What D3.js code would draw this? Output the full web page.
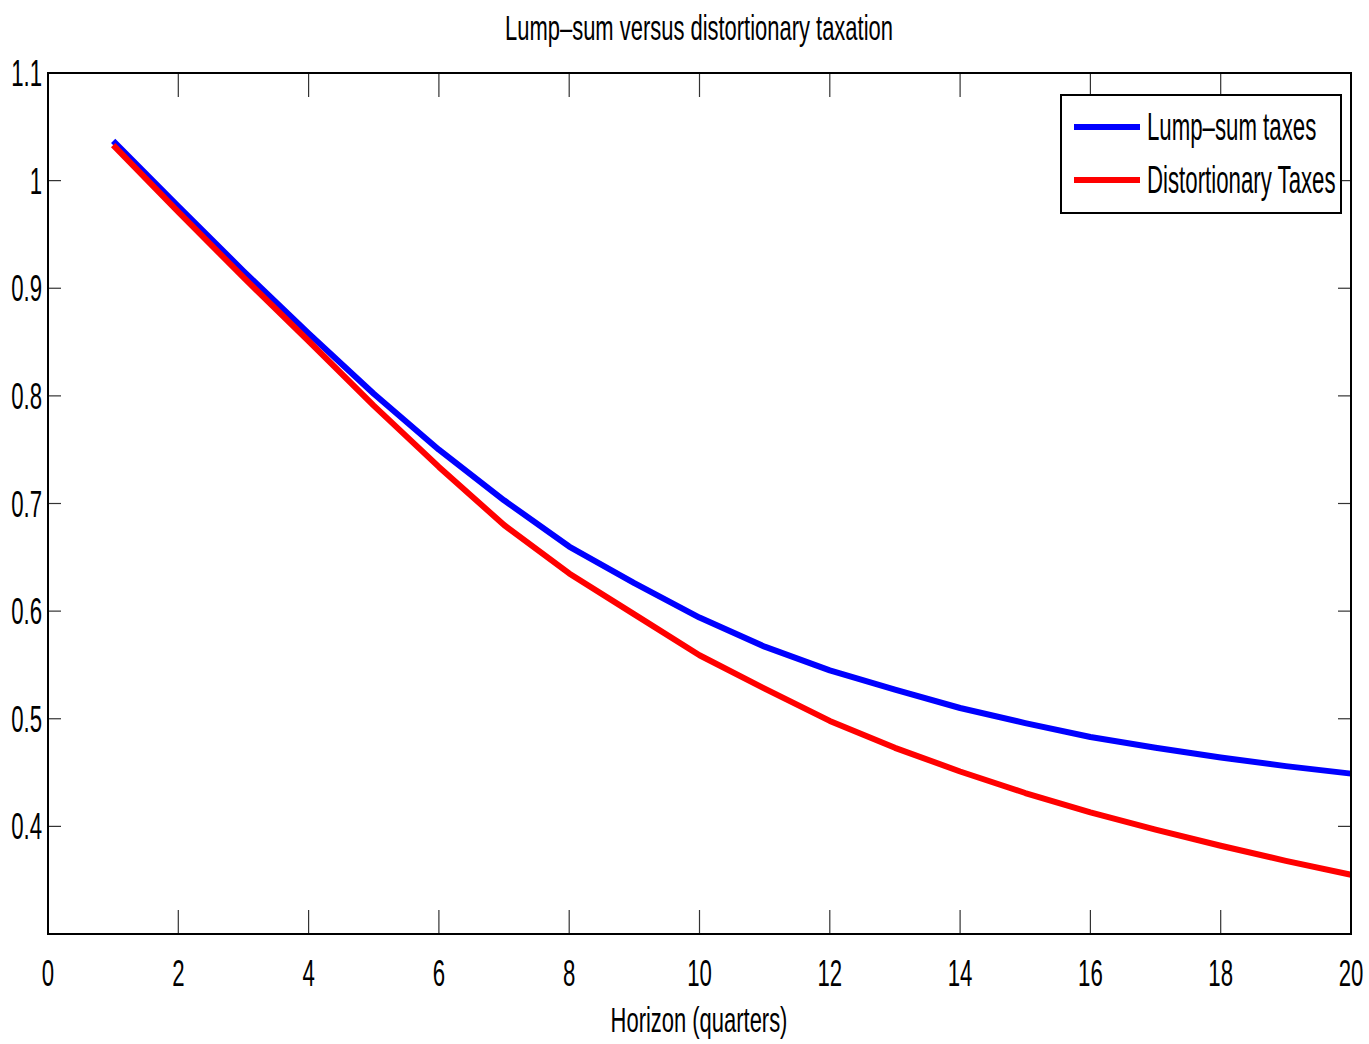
<!DOCTYPE html>
<html><head><meta charset="utf-8">
<script src="https://cdn.jsdelivr.net/npm/d3@7"></script>
<style>body{margin:0;background:#fff}text{font-family:"Liberation Sans",Arial,sans-serif;fill:#000}</style>
</head><body>
<svg id="c" width="1369" height="1044"></svg>
<script>
const horizon = [1,2,3,4,5,6,7,8,9,10,11,12,13,14,15,16,17,18,19,20];
const lumpSum = [1.037,0.976,0.916,0.858,0.802,0.750,0.703,0.660,0.626,0.594,0.567,0.545,0.527,0.510,0.496,0.483,0.473,0.464,0.456,0.449];
const distortionary = [1.033,0.971,0.910,0.851,0.791,0.734,0.680,0.635,0.597,0.559,0.528,0.498,0.473,0.451,0.431,0.413,0.397,0.382,0.368,0.355];
const xTicks = [0,2,4,6,8,10,12,14,16,18,20];
const yTicks = [0.4,0.5,0.6,0.7,0.8,0.9,1,1.1];
const seriesNames = ["Lump\u2013sum taxes","Distortionary Taxes"];
const seriesColors = ["#0000ff","#ff0000"];
const titleText = "Lump\u2013sum versus distortionary taxation";
const xLabelText = "Horizon (quarters)";

const svg = d3.select("#c");
const L=48, R=1351, T=73, B=934;
const x = d3.scaleLinear().domain([0,20]).range([L,R]);
const y = d3.scaleLinear().domain([0.3,1.1]).range([B,T]);

function ctext(g, px, py, str, size, anchor, sx){
  return g.append("text").attr("transform",`translate(${px},${py}) scale(${sx},1)`)
    .attr("font-size",size).attr("text-anchor",anchor).text(str);
}

// ticks (inner, all sides)
const tg = svg.append("g").attr("stroke","#333").attr("stroke-width",1.2);
xTicks.forEach(v=>{
  tg.append("line").attr("x1",x(v)).attr("x2",x(v)).attr("y1",B).attr("y2",B-24);
  tg.append("line").attr("x1",x(v)).attr("x2",x(v)).attr("y1",T).attr("y2",T+24);
});
yTicks.forEach(v=>{
  tg.append("line").attr("x1",L).attr("x2",L+13).attr("y1",y(v)).attr("y2",y(v));
  tg.append("line").attr("x1",R).attr("x2",R-13).attr("y1",y(v)).attr("y2",y(v));
});

// lines
const line = d3.line().x((d,i)=>x(horizon[i])).y(d=>y(d));
[lumpSum, distortionary].forEach((s,i)=>{
  svg.append("path").datum(s).attr("d",line).attr("fill","none")
    .attr("stroke",seriesColors[i]).attr("stroke-width",6).attr("stroke-linejoin","round");
});

// box
svg.append("rect").attr("x",L).attr("y",T).attr("width",R-L).attr("height",B-T)
  .attr("fill","none").attr("stroke","#000").attr("stroke-width",2);

// tick labels
const lg = svg.append("g");
xTicks.forEach(v=>ctext(lg, x(v), 986, String(v), 37, "middle", 0.6));
yTicks.forEach(v=>ctext(lg, 42, y(v)+13, String(v), 37, "end", 0.6));

// title, x label
ctext(svg, 699, 40, titleText, 36, "middle", 0.61);
ctext(svg, 699, 1032, xLabelText, 36, "middle", 0.61);

// legend
const leg = svg.append("g");
leg.append("rect").attr("x",1061).attr("y",95).attr("width",280).attr("height",118)
  .attr("fill","#fff").attr("stroke","#000").attr("stroke-width",2);
seriesNames.forEach((n,i)=>{
  const yy = 127 + i*53;
  leg.append("line").attr("x1",1074).attr("x2",1140).attr("y1",yy).attr("y2",yy)
    .attr("stroke",seriesColors[i]).attr("stroke-width",6);
  ctext(leg, 1147, yy+13, n, 38, "start", 0.585);
});
</script>
</body></html>
